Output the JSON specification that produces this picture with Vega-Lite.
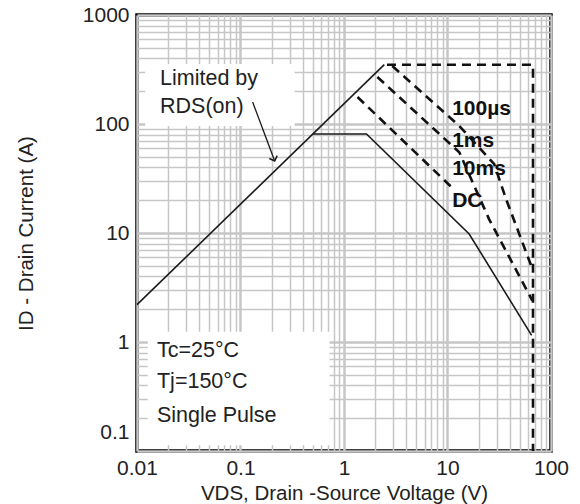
{
  "$schema": "https://vega.github.io/schema/vega-lite/v6.json",
  "width": 414,
  "height": 436,
  "autosize": {"type": "none"},
  "padding": {"left": 137, "top": 15, "right": 29, "bottom": 53},
  "background": "white",
  "config": {
    "view": {"stroke": "black", "strokeWidth": 3.5},
    "font": "Liberation Sans",
    "axis": {
      "domain": false,
      "ticks": false,
      "gridColor": "#c6c6c6",
      "labelFont": "Liberation Sans",
      "labelFontSize": 21,
      "labelColor": "#222222",
      "titleFont": "Liberation Sans",
      "titleFontWeight": "normal",
      "titleFontSize": 20.5,
      "titleColor": "#222222",
      "labelFlush": false,
      "labelOverlap": false,
      "labelBound": false
    }
  },
  "datasets": {
    "boxes": [
      {"x": 0.012, "x2": 0.333, "y": 355, "y2": 96},
      {"x": 0.0127, "x2": 0.725, "y": 1.24, "y2": 0.113}
    ],
    "solid": [
      {"series": "Rds(on)", "ord": 1, "x": 0.01, "y": 2.2},
      {"series": "Rds(on)", "ord": 2, "x": 2.45, "y": 350},
      {"series": "DC", "ord": 1, "x": 0.5, "y": 81},
      {"series": "DC", "ord": 2, "x": 1.65, "y": 81},
      {"series": "DC", "ord": 3, "x": 16.2, "y": 9.8},
      {"series": "DC", "ord": 4, "x": 65, "y": 1.15}
    ],
    "dashed": [
      {"series": "limit", "ord": 1, "x": 2.6, "y": 350},
      {"series": "limit", "ord": 2, "x": 67, "y": 350},
      {"series": "limit", "ord": 3, "x": 67, "y": 0.1},
      {"series": "100us", "ord": 1, "x": 2.93, "y": 340},
      {"series": "100us", "ord": 2, "x": 12.98, "y": 96},
      {"series": "100us", "ord": 3, "x": 28.2, "y": 43},
      {"series": "100us", "ord": 4, "x": 36.8, "y": 20.5},
      {"series": "100us", "ord": 5, "x": 66, "y": 4.7},
      {"series": "1ms", "ord": 1, "x": 2.1, "y": 270},
      {"series": "1ms", "ord": 2, "x": 13, "y": 55},
      {"series": "1ms", "ord": 3, "x": 25.2, "y": 13.4},
      {"series": "1ms", "ord": 4, "x": 66, "y": 2.4},
      {"series": "10ms", "ord": 1, "x": 1.35, "y": 177},
      {"series": "10ms", "ord": 2, "x": 11.6, "y": 25}
    ],
    "arrow": [
      {"ord": 1, "x": 0.131, "y": 159},
      {"ord": 2, "x": 0.214, "y": 45.8}
    ],
    "arrowhead": [
      {"x": 0.214, "y": 45.8}
    ],
    "notes": [
      {"label": "Limited by", "x": 0.0167, "y": 259},
      {"label": "RDS(on)", "x": 0.0167, "y": 143},
      {"label": "Tc=25°C", "x": 0.0156, "y": 0.826},
      {"label": "Tj=150°C", "x": 0.0156, "y": 0.43},
      {"label": "Single Pulse", "x": 0.0156, "y": 0.21}
    ],
    "pulses": [
      {"label": "100µs", "x": 11.1, "y": 137},
      {"label": "1ms", "x": 11.1, "y": 70},
      {"label": "10ms", "x": 11.1, "y": 38.6},
      {"label": "DC", "x": 11.1, "y": 19.7}
    ]
  },
  "encoding": {
    "x": {
      "field": "x",
      "type": "quantitative",
      "scale": {"type": "log", "domain": [0.01, 100], "nice": false},
      "axis": {
        "title": "VDS, Drain -Source Voltage (V)",
        "values": [0.01,0.02,0.03,0.04,0.05,0.06,0.07,0.08,0.09,0.1,0.2,0.3,0.4,0.5,0.6,0.7,0.8,0.9,1,2,3,4,5,6,7,8,9,10,20,30,40,50,60,70,80,90,100],
        "format": "~g",
        "labelExpr": "abs(log(datum.value)/LN10 - round(log(datum.value)/LN10)) < 1e-6 ? datum.label : ''",
        "gridWidth": {"condition": {"test": "abs(log(datum.value)/LN10 - round(log(datum.value)/LN10)) < 1e-6", "value": 2.5}, "value": 1.5},
        "labelPadding": 6,
        "titleY": 42,
        "titleBaseline": "middle"
      }
    },
    "y": {
      "field": "y",
      "type": "quantitative",
      "scale": {"type": "log", "domain": [0.1, 1000], "nice": false},
      "axis": {
        "title": "ID - Drain Current (A)",
        "values": [0.1,0.2,0.3,0.4,0.5,0.6,0.7,0.8,0.9,1,2,3,4,5,6,7,8,9,10,20,30,40,50,60,70,80,90,100,200,300,400,500,600,700,800,900,1000],
        "format": "~g",
        "labelExpr": "abs(log(datum.value)/LN10 - round(log(datum.value)/LN10)) < 1e-6 ? datum.label : ''",
        "labelOffset": {"condition": {"test": "datum.value < 0.15", "value": -19}, "value": 0},
        "gridWidth": {"condition": {"test": "abs(log(datum.value)/LN10 - round(log(datum.value)/LN10)) < 1e-6", "value": 2.5}, "value": 1.5},
        "labelPadding": 8,
        "titleX": -111,
        "titleBaseline": "middle"
      }
    }
  },
  "layer": [
    {
      "data": {"name": "boxes"},
      "mark": {"type": "rect", "fill": "white"},
      "encoding": {
        "x2": {"field": "x2"},
        "y2": {"field": "y2"}
      }
    },
    {
      "data": {"name": "solid"},
      "mark": {"type": "line", "color": "#1a1a1a", "strokeWidth": 1.6},
      "encoding": {
        "detail": {"field": "series"},
        "order": {"field": "ord", "type": "quantitative"}
      }
    },
    {
      "data": {"name": "dashed"},
      "mark": {"type": "line", "color": "#111111", "strokeWidth": 2.6, "strokeDash": [9, 6]},
      "encoding": {
        "detail": {"field": "series"},
        "order": {"field": "ord", "type": "quantitative"}
      }
    },
    {
      "data": {"name": "arrow"},
      "mark": {"type": "line", "color": "#1a1a1a", "strokeWidth": 1.3},
      "encoding": {
        "order": {"field": "ord", "type": "quantitative"}
      }
    },
    {
      "data": {"name": "arrowhead"},
      "mark": {"type": "point", "shape": "M -1 -1 L 0 0 L 1 -1", "filled": false, "size": 70, "strokeWidth": 1.5, "color": "#1a1a1a", "angle": 340, "opacity": 1}
    },
    {
      "data": {"name": "notes"},
      "mark": {"type": "text", "align": "left", "baseline": "middle", "fontSize": 21.5, "color": "#222222", "font": "Liberation Sans"},
      "encoding": {"text": {"field": "label"}}
    },
    {
      "data": {"name": "pulses"},
      "mark": {"type": "text", "align": "left", "baseline": "middle", "fontSize": 21, "fontWeight": "bold", "color": "#111111", "font": "Liberation Sans"},
      "encoding": {"text": {"field": "label"}}
    }
  ]
}
